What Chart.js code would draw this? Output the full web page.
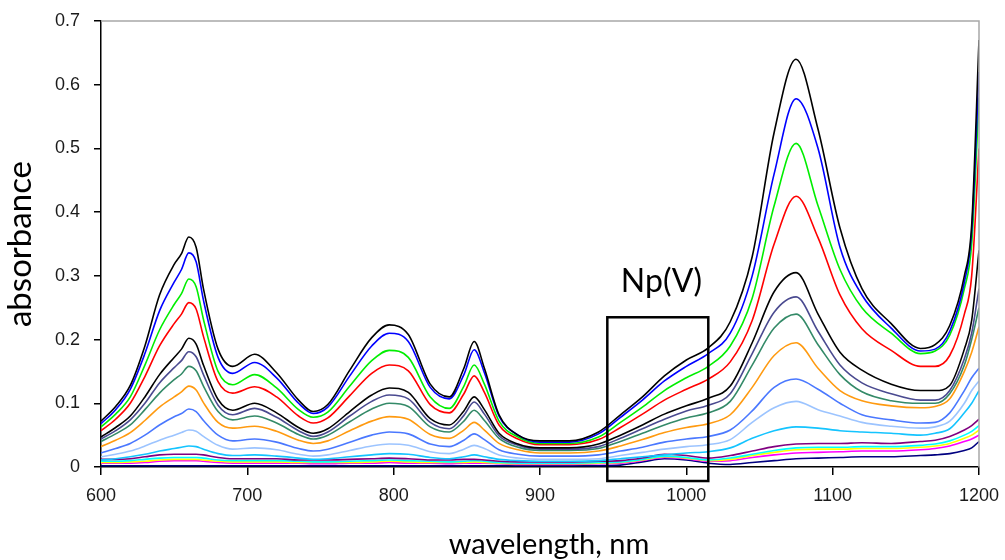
<!DOCTYPE html>
<html>
<head>
<meta charset="utf-8">
<title>Absorption spectra</title>
<script src="https://cdn.jsdelivr.net/npm/chart.js@4.4.1/dist/chart.umd.min.js"></script>
<style>
  html, body { margin: 0; padding: 0; background: #ffffff; }
  #wrap { width: 1005px; height: 560px; }
</style>
</head>
<body>
<div id="wrap"><canvas id="spectra" width="1005" height="560"></canvas></div>
<script>
// Wavelength grid (nm) shared by every spectrum
const wavelengths = [600, 610, 620, 630, 640, 650, 655, 660, 665, 670, 680, 690, 705, 720, 735, 745, 755, 770, 785, 797,
  810, 825, 838, 848, 855, 862, 872, 885, 900, 920, 940, 955, 970, 985, 1000, 1015, 1030, 1045, 1060, 1075,
  1090, 1105, 1120, 1140, 1160, 1170, 1180, 1190, 1195, 1200];

// Absorbance of each sample, strongest first
const specBlack1 = [0.072, 0.095, 0.128, 0.19, 0.27, 0.318, 0.335, 0.361, 0.345, 0.28, 0.185, 0.158, 0.177, 0.148, 0.105, 0.087, 0.098, 0.152, 0.203, 0.223,
  0.208, 0.13, 0.11, 0.155, 0.197, 0.155, 0.082, 0.05, 0.041, 0.041, 0.055, 0.082, 0.11, 0.143, 0.168, 0.187, 0.228, 0.33, 0.525, 0.64,
  0.53, 0.375, 0.28, 0.225, 0.186, 0.192, 0.222, 0.3, 0.38, 0.67];
const specBlue = [0.068, 0.09, 0.122, 0.178, 0.245, 0.29, 0.31, 0.336, 0.322, 0.262, 0.172, 0.147, 0.164, 0.14, 0.1, 0.084, 0.094, 0.143, 0.19, 0.21,
  0.197, 0.125, 0.107, 0.145, 0.184, 0.148, 0.08, 0.05, 0.039, 0.039, 0.052, 0.078, 0.105, 0.135, 0.158, 0.178, 0.21, 0.3, 0.46, 0.578,
  0.5, 0.345, 0.27, 0.218, 0.182, 0.185, 0.213, 0.29, 0.37, 0.62];
const specGreen = [0.063, 0.083, 0.11, 0.16, 0.215, 0.255, 0.272, 0.295, 0.283, 0.232, 0.15, 0.129, 0.145, 0.124, 0.09, 0.078, 0.086, 0.127, 0.167, 0.183,
  0.172, 0.11, 0.092, 0.127, 0.16, 0.13, 0.072, 0.047, 0.037, 0.037, 0.047, 0.07, 0.094, 0.12, 0.14, 0.158, 0.19, 0.265, 0.41, 0.508,
  0.41, 0.31, 0.25, 0.21, 0.178, 0.182, 0.207, 0.28, 0.35, 0.58];
const specRed = [0.057, 0.075, 0.1, 0.142, 0.19, 0.225, 0.24, 0.258, 0.248, 0.205, 0.134, 0.116, 0.126, 0.11, 0.08, 0.069, 0.077, 0.112, 0.147, 0.16,
  0.151, 0.098, 0.085, 0.115, 0.143, 0.117, 0.066, 0.044, 0.035, 0.035, 0.043, 0.062, 0.083, 0.105, 0.122, 0.138, 0.165, 0.23, 0.35, 0.425,
  0.36, 0.27, 0.217, 0.183, 0.158, 0.158, 0.175, 0.24, 0.3, 0.5];
const specBlack2 = [0.047, 0.062, 0.08, 0.11, 0.145, 0.172, 0.185, 0.202, 0.193, 0.16, 0.106, 0.089, 0.1, 0.085, 0.062, 0.053, 0.06, 0.087, 0.113, 0.124,
  0.117, 0.076, 0.066, 0.088, 0.11, 0.09, 0.053, 0.036, 0.03, 0.03, 0.036, 0.05, 0.066, 0.083, 0.096, 0.108, 0.127, 0.195, 0.275, 0.305,
  0.24, 0.18, 0.152, 0.13, 0.12, 0.12, 0.128, 0.185, 0.23, 0.34];
const specSlate = [0.044, 0.057, 0.074, 0.1, 0.132, 0.156, 0.167, 0.181, 0.173, 0.145, 0.097, 0.082, 0.092, 0.078, 0.057, 0.048, 0.055, 0.08, 0.103, 0.113,
  0.107, 0.07, 0.06, 0.081, 0.102, 0.083, 0.049, 0.034, 0.028, 0.028, 0.032, 0.045, 0.06, 0.075, 0.088, 0.097, 0.115, 0.178, 0.243, 0.267,
  0.213, 0.16, 0.132, 0.115, 0.105, 0.105, 0.12, 0.17, 0.21, 0.28];
const specSeaGreen = [0.04, 0.052, 0.066, 0.09, 0.116, 0.137, 0.146, 0.158, 0.151, 0.127, 0.087, 0.074, 0.08, 0.069, 0.051, 0.044, 0.05, 0.071, 0.091, 0.1,
  0.095, 0.063, 0.055, 0.072, 0.089, 0.073, 0.045, 0.031, 0.026, 0.026, 0.029, 0.04, 0.053, 0.066, 0.077, 0.085, 0.103, 0.16, 0.218, 0.24,
  0.192, 0.145, 0.118, 0.104, 0.1, 0.1, 0.115, 0.16, 0.2, 0.25];
const specOrange = [0.032, 0.042, 0.054, 0.073, 0.094, 0.11, 0.118, 0.127, 0.121, 0.101, 0.07, 0.061, 0.064, 0.056, 0.042, 0.037, 0.041, 0.057, 0.072, 0.079,
  0.075, 0.051, 0.045, 0.058, 0.07, 0.058, 0.037, 0.027, 0.022, 0.022, 0.025, 0.033, 0.043, 0.054, 0.062, 0.068, 0.082, 0.125, 0.175, 0.195,
  0.155, 0.12, 0.104, 0.096, 0.093, 0.095, 0.107, 0.15, 0.18, 0.22];
const specCornflower = [0.022, 0.029, 0.037, 0.05, 0.066, 0.079, 0.084, 0.091, 0.087, 0.073, 0.05, 0.041, 0.044, 0.039, 0.029, 0.025, 0.028, 0.039, 0.05, 0.055,
  0.052, 0.036, 0.032, 0.042, 0.052, 0.043, 0.027, 0.02, 0.017, 0.017, 0.019, 0.025, 0.031, 0.039, 0.044, 0.048, 0.058, 0.088, 0.125, 0.138,
  0.122, 0.1, 0.082, 0.074, 0.069, 0.07, 0.085, 0.12, 0.14, 0.155];
const specLightBlue = [0.016, 0.02, 0.025, 0.033, 0.042, 0.05, 0.054, 0.058, 0.056, 0.048, 0.034, 0.028, 0.03, 0.027, 0.02, 0.017, 0.019, 0.026, 0.033, 0.036,
  0.034, 0.024, 0.021, 0.028, 0.034, 0.029, 0.019, 0.014, 0.012, 0.012, 0.013, 0.018, 0.023, 0.028, 0.032, 0.035, 0.043, 0.07, 0.093, 0.103,
  0.09, 0.08, 0.07, 0.064, 0.061, 0.063, 0.072, 0.1, 0.12, 0.135];
const specSky = [0.011, 0.013, 0.016, 0.02, 0.025, 0.029, 0.031, 0.033, 0.032, 0.028, 0.021, 0.018, 0.019, 0.017, 0.014, 0.012, 0.013, 0.016, 0.019, 0.021,
  0.02, 0.015, 0.013, 0.016, 0.019, 0.016, 0.012, 0.01, 0.009, 0.009, 0.01, 0.013, 0.016, 0.019, 0.022, 0.024, 0.03, 0.045, 0.057, 0.063,
  0.061, 0.057, 0.055, 0.053, 0.05, 0.053, 0.06, 0.085, 0.1, 0.12];
const specPurple = [0.012, 0.012, 0.013, 0.016, 0.019, 0.02, 0.02, 0.02, 0.02, 0.019, 0.015, 0.013, 0.013, 0.013, 0.011, 0.011, 0.011, 0.012, 0.013, 0.014,
  0.013, 0.011, 0.011, 0.012, 0.012, 0.011, 0.009, 0.008, 0.008, 0.008, 0.009, 0.01, 0.014, 0.02, 0.018, 0.014, 0.018, 0.025, 0.032, 0.036,
  0.037, 0.037, 0.038, 0.037, 0.04, 0.042, 0.048, 0.058, 0.065, 0.075];
const specCyan = [0.009, 0.009, 0.01, 0.012, 0.014, 0.015, 0.015, 0.015, 0.015, 0.014, 0.011, 0.01, 0.01, 0.01, 0.009, 0.008, 0.008, 0.009, 0.01, 0.011,
  0.01, 0.009, 0.008, 0.009, 0.01, 0.009, 0.007, 0.006, 0.006, 0.006, 0.007, 0.008, 0.012, 0.017, 0.015, 0.011, 0.014, 0.02, 0.026, 0.03,
  0.031, 0.031, 0.032, 0.032, 0.034, 0.036, 0.041, 0.05, 0.056, 0.065];
const specYellow = [0.007, 0.007, 0.008, 0.009, 0.011, 0.012, 0.012, 0.012, 0.012, 0.011, 0.009, 0.008, 0.008, 0.008, 0.007, 0.007, 0.007, 0.007, 0.008, 0.009,
  0.008, 0.007, 0.007, 0.007, 0.008, 0.007, 0.006, 0.005, 0.005, 0.005, 0.006, 0.007, 0.011, 0.016, 0.014, 0.01, 0.012, 0.018, 0.023, 0.027,
  0.028, 0.028, 0.029, 0.029, 0.031, 0.033, 0.037, 0.045, 0.05, 0.058];
const specMagenta = [0.006, 0.006, 0.006, 0.007, 0.009, 0.01, 0.01, 0.01, 0.01, 0.009, 0.007, 0.006, 0.006, 0.006, 0.006, 0.005, 0.005, 0.006, 0.006, 0.007,
  0.006, 0.006, 0.005, 0.006, 0.006, 0.006, 0.005, 0.004, 0.004, 0.004, 0.005, 0.006, 0.01, 0.015, 0.013, 0.009, 0.01, 0.015, 0.019, 0.022,
  0.023, 0.024, 0.025, 0.025, 0.027, 0.029, 0.033, 0.04, 0.044, 0.05];
const specNavy = [0.002, 0.002, 0.002, 0.002, 0.002, 0.002, 0.002, 0.002, 0.002, 0.002, 0.002, 0.002, 0.002, 0.002, 0.002, 0.002, 0.002, 0.002, 0.002, 0.002,
  0.002, 0.002, 0.002, 0.002, 0.002, 0.002, 0.002, 0.002, 0.002, 0.002, 0.002, 0.003, 0.008, 0.013, 0.011, 0.006, 0.004, 0.007, 0.01, 0.013,
  0.014, 0.015, 0.016, 0.016, 0.018, 0.019, 0.021, 0.026, 0.03, 0.04];

// Axis ticks
const xTicks = [600, 700, 800, 900, 1000, 1100, 1200];
const yTicks = [0, 0.1, 0.2, 0.3, 0.4, 0.5, 0.6, 0.7];

// Marked Np(V) band region (nm / absorbance) and the axis captions
const npBand = { fromNm: 946, toNm: 1015, low: -0.022, high: 0.235 };
const npLabel = { text: 'Np(V)', nm: 983, value: 0.291 };
const xCaption = 'wavelength, nm';
const yCaption = 'absorbance';

const series = [
  { data: specBlack1, color: '#000000' },
  { data: specBlue, color: '#0000ff' },
  { data: specGreen, color: '#00ee00' },
  { data: specRed, color: '#ff0000' },
  { data: specBlack2, color: '#000000' },
  { data: specSlate, color: '#4a4a90' },
  { data: specSeaGreen, color: '#348a68' },
  { data: specOrange, color: '#ff9a10' },
  { data: specCornflower, color: '#4a78ff' },
  { data: specLightBlue, color: '#9cc4ff' },
  { data: specSky, color: '#14c4ff' },
  { data: specPurple, color: '#800080' },
  { data: specCyan, color: '#00ffff' },
  { data: specYellow, color: '#ffff00' },
  { data: specMagenta, color: '#ff00ff' },
  { data: specNavy, color: '#000080' }
];

const datasets = series.map(s => ({
  data: wavelengths.map((w, i) => ({ x: w, y: s.data[i] })),
  borderColor: s.color,
  borderWidth: 1.6,
  pointRadius: 0,
  fill: false,
  cubicInterpolationMode: 'monotone'
}));

// Grey frame on top/right, the boxed band with its label, and the x caption
const frameAndBand = {
  id: 'frameAndBand',
  afterDraw(chart) {
    const { ctx, chartArea: a, scales: { x, y } } = chart;
    ctx.save();
    ctx.strokeStyle = '#a8a8a8';
    ctx.lineWidth = 1.5;
    ctx.beginPath();
    ctx.moveTo(a.left, a.top);
    ctx.lineTo(a.right, a.top);
    ctx.lineTo(a.right, a.bottom);
    ctx.stroke();

    const bx0 = x.getPixelForValue(npBand.fromNm);
    const bx1 = x.getPixelForValue(npBand.toNm);
    const by0 = y.getPixelForValue(npBand.high);
    const by1 = y.getPixelForValue(npBand.low);
    ctx.strokeStyle = '#000000';
    ctx.lineWidth = 2.5;
    ctx.strokeRect(bx0, by0, bx1 - bx0, by1 - by0);

    ctx.fillStyle = '#000000';
    ctx.textAlign = 'center';
    ctx.textBaseline = 'middle';
    ctx.font = '32px Lato';
    ctx.fillText(npLabel.text, x.getPixelForValue(npLabel.nm), y.getPixelForValue(npLabel.value));

    ctx.font = '29px Lato';
    ctx.fillText(xCaption, (a.left + a.right) / 2 + 9, 545);
    ctx.restore();
  }
};

const tickFont = { family: '"Liberation Sans", Arial, sans-serif', size: 18 };

new Chart(document.getElementById('spectra'), {
  type: 'line',
  data: { datasets },
  options: {
    responsive: false,
    animation: false,
    events: [],
    layout: { padding: { top: 21, right: 26, left: 0, bottom: 0 } },
    plugins: { legend: { display: false }, tooltip: { enabled: false } },
    scales: {
      x: {
        type: 'linear',
        min: 600,
        max: 1200,
        afterBuildTicks: s => { s.ticks = xTicks.map(v => ({ value: v })); },
        afterFit: s => { s.height = 93; s.paddingLeft = 0; s.paddingRight = 0; },
        ticks: { font: tickFont, color: '#1a1a1a', padding: 10, maxRotation: 0,
                 callback: v => String(v) },
        grid: { drawOnChartArea: false, drawTicks: true, tickLength: 8, color: '#000000', lineWidth: 1.5 },
        border: { display: true, color: '#000000', width: 1.5 },
        title: { display: false }
      },
      y: {
        type: 'linear',
        min: 0,
        max: 0.7,
        afterBuildTicks: s => { s.ticks = yTicks.map(v => ({ value: v })); },
        afterFit: s => { s.width = 101; s.paddingTop = 0; s.paddingBottom = 0; },
        ticks: { font: tickFont, color: '#1a1a1a', padding: 14,
                 callback: v => (v === 0 ? '0' : v.toFixed(1)) },
        grid: { drawOnChartArea: false, drawTicks: true, tickLength: 7, color: '#000000', lineWidth: 1.5 },
        border: { display: true, color: '#000000', width: 1.5 },
        title: { display: true, text: yCaption, color: '#000000',
                 font: { family: 'Lato, sans-serif', size: 33, lineHeight: 1 },
                 padding: { top: 4, bottom: 0 } }
      }
    }
  },
  plugins: [frameAndBand]
});
</script>
</body>
</html>
